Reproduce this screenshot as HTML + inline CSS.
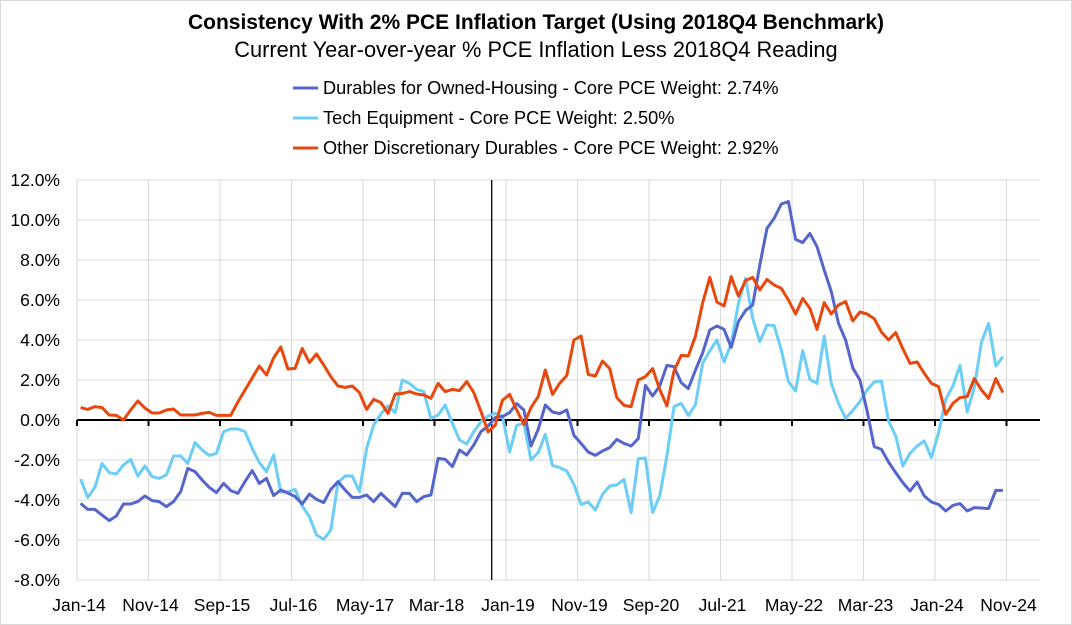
<!DOCTYPE html>
<html><head><meta charset="utf-8"><style>
body{margin:0;background:#fff;}
svg{display:block;font-family:"Liberation Sans",sans-serif;}
</style></head><body>
<svg id="chart" width="1072" height="625" viewBox="0 0 1072 625">
<rect x="0.5" y="0.5" width="1071" height="624" fill="#fff" stroke="#d9d9d9"/>
<text x="536" y="29" text-anchor="middle" font-size="21" font-weight="bold" fill="#000">Consistency With 2% PCE Inflation Target (Using 2018Q4 Benchmark)</text>
<text x="536" y="57" text-anchor="middle" font-size="21.8" fill="#000">Current Year-over-year % PCE Inflation Less 2018Q4 Reading</text>
<g id="grid"></g>
<g id="axes"></g>
<g id="series"></g>
<g id="legend"></g>
</svg>
<script>
const xLabels=["Jan-14","Nov-14","Sep-15","Jul-16","May-17","Mar-18","Jan-19","Nov-19","Sep-20","Jul-21","May-22","Mar-23","Jan-24","Nov-24"];
const yTicks=[12,10,8,6,4,2,0,-2,-4,-6,-8];
const seriesNames=["Durables for Owned-Housing - Core PCE Weight: 2.74%","Tech Equipment - Core PCE Weight: 2.50%","Other Discretionary Durables - Core PCE Weight: 2.92%"];
const durables=[-4.17,-4.47,-4.47,-4.75,-5.03,-4.8,-4.2,-4.2,-4.08,-3.8,-4.03,-4.08,-4.33,-4.08,-3.58,-2.42,-2.58,-3.0,-3.37,-3.63,-3.17,-3.53,-3.67,-3.08,-2.53,-3.17,-2.92,-3.78,-3.5,-3.65,
-3.83,-4.2,-3.7,-3.97,-4.13,-3.47,-3.08,-3.5,-3.87,-3.87,-3.75,-4.08,-3.67,-4.0,-4.33,-3.67,-3.67,-4.08,-3.83,-3.75,-1.92,-1.97,-2.33,-1.5,-1.75,-1.25,-0.58,-0.3,0.12,
0.17,0.37,0.82,0.5,-1.3,-0.47,0.75,0.4,0.32,0.5,-0.77,-1.17,-1.6,-1.77,-1.55,-1.38,-0.97,-1.17,-1.3,-0.93,1.73,1.2,1.7,2.73,2.67,1.87,1.57,2.5,3.35,4.5,4.7,4.53,
3.63,4.92,5.47,5.75,7.75,9.58,10.08,10.8,10.92,9.03,8.87,9.33,8.67,7.5,6.42,4.83,4.0,2.6,2.0,0.45,-1.33,-1.47,-2.1,-2.63,-3.13,-3.55,-3.1,-3.8,-4.1,-4.22,-4.55,-4.27,-4.18,-4.55,-4.38,-4.4,-4.43,-3.52,-3.52];
const tech=[-2.95,-3.87,-3.37,-2.17,-2.63,-2.7,-2.25,-1.97,-2.8,-2.3,-2.83,-2.92,-2.75,-1.8,-1.8,-2.17,-1.13,-1.5,-1.77,-1.67,-0.58,-0.45,-0.45,-0.58,-1.42,-2.13,-2.58,-1.75,-3.6,-3.6,
-3.47,-4.3,-4.83,-5.75,-5.97,-5.5,-3.13,-2.8,-2.8,-3.58,-1.42,-0.25,0.3,0.7,0.37,2.0,1.83,1.53,1.42,0.08,0.25,0.75,-0.17,-1.0,-1.2,-0.58,-0.08,0.2,0.33,
0.2,-1.6,-0.27,-0.17,-2.0,-1.63,-0.72,-2.27,-2.38,-2.55,-3.22,-4.22,-4.1,-4.5,-3.72,-3.3,-3.25,-2.97,-4.63,-1.93,-1.9,-4.63,-3.8,-1.8,0.67,0.83,0.23,0.78,2.83,3.45,4.0,2.9,
3.83,5.83,7.08,5.08,3.92,4.75,4.72,3.5,1.92,1.45,3.47,2.03,1.83,4.2,1.83,0.83,0.08,0.48,0.92,1.5,1.9,1.95,-0.05,-0.8,-2.3,-1.67,-1.3,-1.05,-1.88,-0.63,1.03,1.7,2.73,0.4,1.62,3.9,4.83,2.7,3.17];
const other=[0.62,0.53,0.67,0.62,0.25,0.23,0.0,0.5,0.95,0.6,0.35,0.35,0.5,0.55,0.25,0.25,0.25,0.33,0.38,0.23,0.23,0.23,0.9,1.5,2.1,2.7,2.25,3.1,3.65,2.55,
2.58,3.58,2.87,3.3,2.75,2.17,1.7,1.63,1.7,1.37,0.53,1.03,0.87,0.33,1.3,1.33,1.42,1.3,1.25,1.08,1.83,1.42,1.53,1.47,1.92,1.37,0.42,-0.6,-0.25,
0.98,1.28,0.5,-0.22,0.62,1.17,2.5,1.28,1.83,2.23,4.0,4.2,2.28,2.2,2.95,2.57,1.12,0.73,0.67,2.0,2.17,2.57,1.53,0.7,2.45,3.23,3.2,4.2,5.85,7.13,5.9,5.7,
7.17,6.2,6.97,7.13,6.5,7.03,6.75,6.58,6.0,5.3,6.08,5.58,4.53,5.87,5.3,5.75,5.92,4.95,5.4,5.3,5.07,4.4,4.0,4.37,3.57,2.83,2.9,2.33,1.83,1.67,0.28,0.83,1.12,1.17,2.07,1.5,1.08,2.07,1.37];
const benchmarkIndex=58;

const NS="http://www.w3.org/2000/svg";
const L=77,R=1040,STEP=7.15;
function xb(i){return L+i*STEP;}
function xc(i){return L+(i+0.5)*STEP;}
function y(v){return 420-v*20;}
function mk(tag,attrs,parent){const e=document.createElementNS(NS,tag);for(const k in attrs)e.setAttribute(k,attrs[k]);parent.appendChild(e);return e;}
const grid=document.getElementById('grid'),axes=document.getElementById('axes'),ser=document.getElementById('series'),leg=document.getElementById('legend');

yTicks.forEach(t=>{
  if(t!==0){const g=mk('line',{x1:L,x2:R,y1:y(t),y2:y(t),stroke:'#d9d9d9','stroke-width':1},grid);
  
  }
  const tx=mk('text',{x:60,y:y(t)+6,'text-anchor':'end','font-size':17.5,fill:'#000'},axes);
  tx.textContent=t.toFixed(1)+'%';
  
  
});
xLabels.forEach((lab,k)=>{
  const xx=xb(k*10);
  const g=mk('line',{x1:xx,x2:xx,y1:180,y2:580,stroke:'#d9d9d9','stroke-width':1},grid);
  
  
  const tk=mk('line',{x1:xx,x2:xx,y1:420,y2:426,stroke:'#000','stroke-width':2},axes);
  
  
  const tx=mk('text',{x:xx+2,y:611,'text-anchor':'middle','font-size':17.5,fill:'#000'},axes);
  tx.textContent=lab;
  
  
});
const zl=mk('line',{x1:L,x2:R,y1:420,y2:420,stroke:'#000','stroke-width':2},axes);


const bl=mk('line',{x1:xb(benchmarkIndex),x2:xb(benchmarkIndex),y1:180,y2:580,stroke:'#000','stroke-width':1.3},axes);



const series=[[durables,'#5465cc','durables-line'],[tech,'#6ccdf6','tech-line'],[other,'#e8480e','other-durables-line']];
[series[1],series[0],series[2]].forEach(([d,c,n])=>{
  const p=mk('polyline',{points:d.map((v,i)=>xc(i).toFixed(1)+','+y(v).toFixed(1)).join(' '),fill:'none',stroke:c,'stroke-width':3,'stroke-linejoin':'round'},ser);
  
  
});
series.forEach(([d,c,n],k)=>{
  const ly=88+k*30;
  const g=mk('g',{},leg);
  
  
  mk('line',{x1:293,x2:318,y1:ly,y2:ly,stroke:c,'stroke-width':3},g);
  const t=mk('text',{x:323,y:ly+6,'font-size':18.2,fill:'#000'},g);
  t.textContent=seriesNames[k];
});
</script>
</body></html>
